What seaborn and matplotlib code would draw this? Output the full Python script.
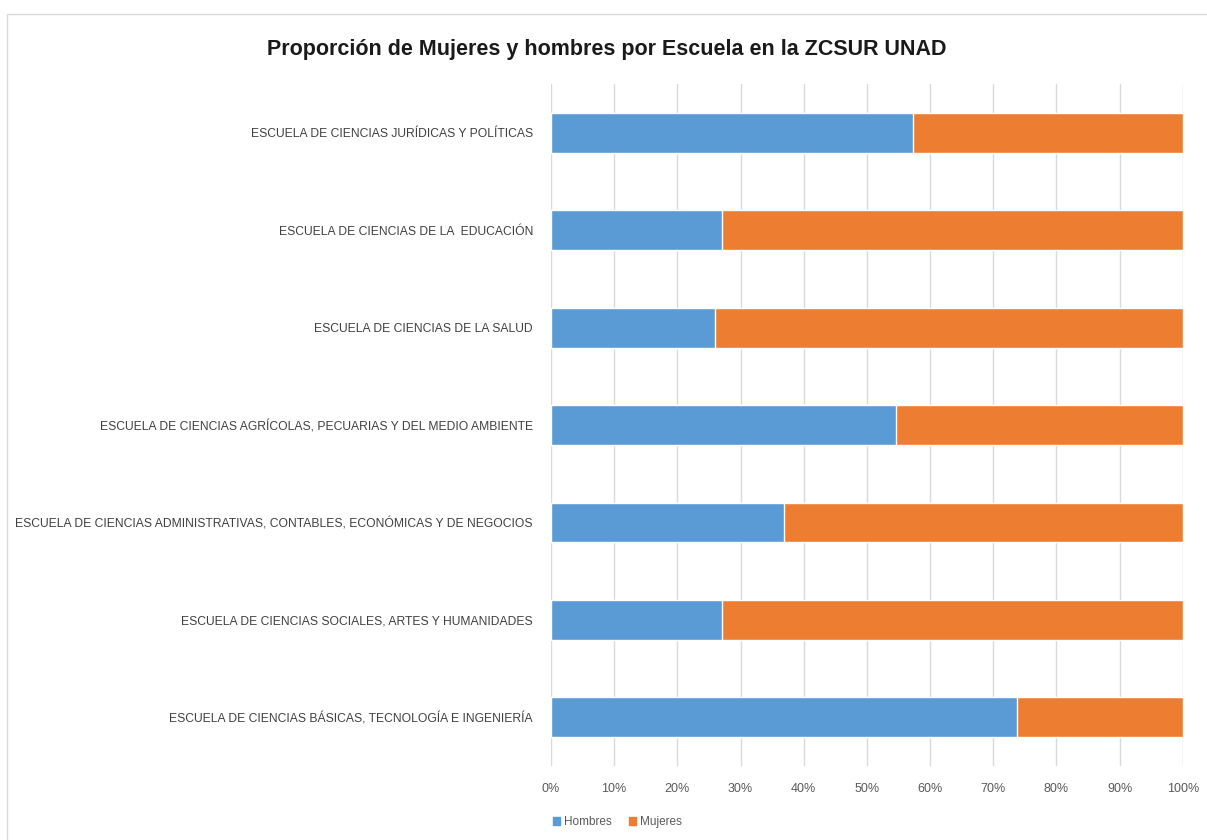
import matplotlib
matplotlib.use("Agg")
import matplotlib.pyplot as plt
import matplotlib.patches as mpatches
import seaborn as sns
import pandas as pd

escuelas = [
    "ESCUELA DE CIENCIAS JURÍDICAS Y POLÍTICAS",
    "ESCUELA DE CIENCIAS DE LA  EDUCACIÓN",
    "ESCUELA DE CIENCIAS DE LA SALUD",
    "ESCUELA DE CIENCIAS AGRÍCOLAS, PECUARIAS Y DEL MEDIO AMBIENTE",
    "ESCUELA DE CIENCIAS ADMINISTRATIVAS, CONTABLES, ECONÓMICAS Y DE NEGOCIOS",
    "ESCUELA DE CIENCIAS SOCIALES, ARTES Y HUMANIDADES",
    "ESCUELA DE CIENCIAS BÁSICAS, TECNOLOGÍA E INGENIERÍA",
]
hombres = [0.573, 0.270, 0.259, 0.546, 0.368, 0.271, 0.737]
mujeres = [0.427, 0.730, 0.741, 0.454, 0.632, 0.729, 0.263]
ticks = [0, 0.1, 0.2, 0.3, 0.4, 0.5, 0.6, 0.7, 0.8, 0.9, 1.0]
tick_labels = ["0%", "10%", "20%", "30%", "40%", "50%", "60%", "70%", "80%", "90%", "100%"]

azul = "#5B9BD5"
naranja = "#ED7D31"

df = pd.DataFrame({"Escuela": escuelas, "Hombres": hombres, "Mujeres": mujeres})
df["Total"] = df["Hombres"] + df["Mujeres"]

sns.set_style("white")
plt.rcParams["font.family"] = ["Liberation Sans", "DejaVu Sans"]

fig = plt.figure(figsize=(12.07, 8.4), dpi=100)
ax = fig.add_axes([0.4565, 0.088, 0.5235, 0.812])

# barra total (mujeres) debajo, hombres encima
sns.barplot(data=df, y="Escuela", x="Total", color=naranja, orient="h",
            width=0.41, saturation=1, ax=ax, zorder=2)
sns.barplot(data=df, y="Escuela", x="Hombres", color=azul, orient="h",
            width=0.41, saturation=1, ax=ax, zorder=3)

ax.set_xlim(0, 1)
ax.set_xticks(ticks)
ax.set_xticklabels(tick_labels)
ax.grid(axis="x", color="#d9d9d9", linewidth=1, zorder=0)
ax.set_axisbelow(True)
for s in ax.spines.values():
    s.set_visible(False)
ax.set_xlabel("")
ax.set_ylabel("")
ax.tick_params(axis="y", length=0, labelsize=8.7, colors="#404040", pad=13)
ax.tick_params(axis="x", length=0, labelsize=9, colors="#595959", pad=12)

fig.suptitle("Proporción de Mujeres y hombres por Escuela en la ZCSUR UNAD",
             x=0.503, y=0.954, fontsize=15.5, fontweight="bold", color="#1a1a1a")

handles = [mpatches.Patch(color=azul, label="Hombres"),
           mpatches.Patch(color=naranja, label="Mujeres")]
leg = fig.legend(handles=handles, loc="center left", bbox_to_anchor=(0.449, 0.021),
                 ncol=2, frameon=False, fontsize=8.5, handlelength=0.6, handleheight=0.6,
                 handletextpad=0.4, columnspacing=1.4)
for t in leg.get_texts():
    t.set_color("#595959")

border = mpatches.Rectangle((0.006, -0.01), 1.0, 0.993, transform=fig.transFigure,
                            fill=False, edgecolor="#d9d9d9", linewidth=1)
fig.patches.append(border)

fig.savefig("out.png", dpi=100)
